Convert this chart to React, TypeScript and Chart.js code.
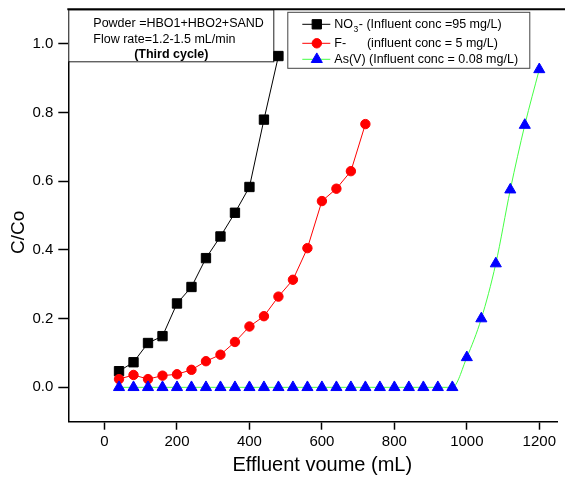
import React, { useEffect, useRef } from "react";
import { Chart, registerables } from "chart.js";

Chart.register(...registerables);

// ---- data ----
const volumeNO3 = [40, 80, 120, 160, 200, 240, 280, 320, 360, 400, 440, 480];
const valuesNO3 = [0.047, 0.073, 0.129, 0.149, 0.244, 0.292, 0.376, 0.439, 0.508, 0.583, 0.779, 0.964];

const volumeF = [40, 80, 120, 160, 200, 240, 280, 320, 360, 400, 440, 480, 520, 560, 600, 640, 680, 720];
const valuesF = [0.024, 0.036, 0.024, 0.034, 0.038, 0.051, 0.076, 0.095, 0.132, 0.177, 0.207, 0.264, 0.313, 0.405, 0.542, 0.578, 0.629, 0.766];

const volumeAs = [40, 80, 120, 160, 200, 240, 280, 320, 360, 400, 440, 480, 520, 560, 600, 640, 680, 720, 760, 800, 840, 880, 920, 960, 1000, 1040, 1080, 1120, 1160, 1200];
const valuesAs = [0, 0, 0, 0, 0, 0, 0, 0, 0, 0, 0, 0, 0, 0, 0, 0, 0, 0, 0, 0, 0, 0, 0, 0, 0.087, 0.2, 0.36, 0.575, 0.763, 0.925];

const xTickValues = [0, 200, 400, 600, 800, 1000, 1200];
const yTickValues = [0, 0.2, 0.4, 0.6, 0.8, 1.0];

const xTitle = "Effluent voume (mL)";
const yTitle = "C/Co";
const annotationLines = ["Powder =HBO1+HBO2+SAND", "Flow rate=1.2-1.5 mL/min", "(Third cycle)"];
const legendMain = ["NO", "F-      (influent conc = 5 mg/L)", "As(V) (Influent conc = 0.08 mg/L)"];
const legendSub = ["3", "", ""];
const legendTail = ["- (Influent conc =95 mg/L)", "", ""];

const FONT = "Arial, 'Liberation Sans', sans-serif";

function drawMarker(ctx: CanvasRenderingContext2D, style: string, x: number, y: number, r: number, color: string) {
  ctx.save();
  ctx.fillStyle = color;
  ctx.strokeStyle = color;
  ctx.lineWidth = 1;
  ctx.beginPath();
  if (style === "rect") {
    const s = r / Math.SQRT2;
    ctx.rect(x - s, y - s, 2 * s, 2 * s);
  } else if (style === "circle") {
    ctx.arc(x, y, r, 0, Math.PI * 2);
  } else {
    const h = r;
    ctx.moveTo(x, y - h);
    ctx.lineTo(x + 0.866 * h, y + h / 2);
    ctx.lineTo(x - 0.866 * h, y + h / 2);
    ctx.closePath();
  }
  ctx.fill();
  ctx.stroke();
  ctx.restore();
}

const decorPlugin = {
  id: "decor",
  beforeDatasetsDraw(chart: any) {
    const { ctx, chartArea } = chart;
    const L = chartArea.left;
    const T = chartArea.top;
    ctx.save();
    // annotation box
    ctx.fillStyle = "#fff";
    ctx.fillRect(L, T, 205, 52);
    ctx.strokeStyle = "#222";
    ctx.lineWidth = 1;
    ctx.strokeRect(L + 0.5, T + 0.5, 205, 52);
    ctx.fillStyle = "#000";
    ctx.textBaseline = "middle";
    ctx.textAlign = "left";
    ctx.font = `12.5px ${FONT}`;
    ctx.fillText(annotationLines[0], L + 25, T + 14);
    ctx.fillText(annotationLines[1], L + 25, T + 30);
    ctx.font = `bold 12.5px ${FONT}`;
    ctx.textAlign = "center";
    ctx.fillText(annotationLines[2], L + 103, T + 45.5);

    // legend box
    const bx = L + 219;
    const by = T + 2.5;
    ctx.fillStyle = "#fff";
    ctx.fillRect(bx, by, 242, 56);
    ctx.strokeStyle = "#444";
    ctx.strokeRect(bx + 0.5, by + 0.5, 242, 56);
    const rowY = [by + 12.5, by + 31.5, by + 47.5];
    chart.data.datasets.forEach((ds: any) => {
      const k = ds.legendIndex;
      const y = rowY[k];
      ctx.strokeStyle = ds.borderColor;
      ctx.lineWidth = 1;
      ctx.beginPath();
      ctx.moveTo(bx + 15, y);
      ctx.lineTo(bx + 43, y);
      ctx.stroke();
      drawMarker(ctx, ds.pointStyle, bx + 29.5, y, ds.pointRadius, ds.pointBackgroundColor);
      ctx.fillStyle = "#000";
      ctx.textAlign = "left";
      ctx.textBaseline = "middle";
      ctx.font = `12.5px ${FONT}`;
      let tx = bx + 47;
      ctx.fillText(legendMain[k], tx, y);
      tx += ctx.measureText(legendMain[k]).width;
      if (legendSub[k]) {
        ctx.font = `8.5px ${FONT}`;
        ctx.fillText(legendSub[k], tx + 0.5, y + 5);
        tx += ctx.measureText(legendSub[k]).width + 1;
        ctx.font = `12.5px ${FONT}`;
      }
      if (legendTail[k]) ctx.fillText(legendTail[k], tx, y);
    });
    ctx.restore();
  },
  afterDraw(chart: any) {
    const { ctx, chartArea } = chart;
    ctx.save();
    // top frame line
    ctx.strokeStyle = "#000";
    ctx.lineWidth = 2;
    ctx.beginPath();
    ctx.moveTo(chartArea.left - 1, chartArea.top);
    ctx.lineTo(chart.width, chartArea.top);
    ctx.stroke();
    // axis titles
    ctx.fillStyle = "#000";
    ctx.textAlign = "center";
    ctx.textBaseline = "middle";
    ctx.font = `20px ${FONT}`;
    ctx.fillText(xTitle, chartArea.left + 254, chartArea.bottom + 44);
    ctx.translate(19, chartArea.top + 223);
    ctx.rotate(-Math.PI / 2);
    ctx.font = `19px ${FONT}`;
    ctx.fillText(yTitle, 0, 0);
    ctx.restore();
  },
};

export default function App() {
  const ref = useRef<HTMLCanvasElement | null>(null);
  useEffect(() => {
    if (!ref.current) return;
    const toPts = (xs: number[], ys: number[]) => xs.map((x, i) => ({ x, y: ys[i] }));
    const chart = new Chart(ref.current, {
      type: "line",
      data: {
        datasets: [
          {
            label: "NO3",
            legendIndex: 0,
            data: toPts(volumeNO3, valuesNO3),
            borderColor: "#000000",
            borderWidth: 1,
            pointStyle: "rect",
            pointRadius: 6.6,
            pointBackgroundColor: "#000000",
            pointBorderColor: "#000000",
            pointBorderWidth: 1,
            order: 2,
          },
          {
            label: "F",
            legendIndex: 1,
            data: toPts(volumeF, valuesF),
            borderColor: "#ff0000",
            borderWidth: 1,
            pointStyle: "circle",
            pointRadius: 4.7,
            pointBackgroundColor: "#ff0000",
            pointBorderColor: "#ff0000",
            pointBorderWidth: 1,
            order: 1,
          },
          {
            label: "As",
            legendIndex: 2,
            data: toPts(volumeAs, valuesAs),
            borderColor: "#44ff44",
            borderWidth: 1,
            cubicInterpolationMode: "monotone",
            pointStyle: "triangle",
            pointRadius: 6.4,
            pointBackgroundColor: "#0000ff",
            pointBorderColor: "#0000ff",
            pointBorderWidth: 1,
            order: 0,
          },
        ] as any,
      },
      options: {
        animation: false,
        responsive: false,
        maintainAspectRatio: false,
        layout: { padding: { top: 9.3, left: 0, right: 0, bottom: 0 } },
        plugins: { legend: { display: false }, tooltip: { enabled: false } },
        scales: {
          x: {
            type: "linear",
            min: -100,
            max: 1250,
            afterBuildTicks: (s: any) => {
              s.ticks = xTickValues.map((v) => ({ value: v }));
            },
            afterFit: (s: any) => {
              s.height = 57.3;
              s.paddingLeft = 0;
              s.paddingRight = 0;
            },
            grid: {
              display: true,
              drawOnChartArea: false,
              drawTicks: true,
              tickLength: 8,
              tickWidth: 1.5,
              tickColor: "#000",
            },
            border: { display: true, color: "#000", width: 1.5 },
            ticks: {
              color: "#000",
              font: { family: FONT, size: 15 },
              padding: 3,
              maxRotation: 0,
              callback: (v: any) => String(v),
            },
            title: { display: false },
          },
          y: {
            type: "linear",
            min: -0.1,
            max: 1.1,
            afterBuildTicks: (s: any) => {
              s.ticks = yTickValues.map((v) => ({ value: v }));
            },
            afterFit: (s: any) => {
              s.width = 68.3;
              s.paddingTop = 0;
              s.paddingBottom = 0;
            },
            grid: {
              display: true,
              drawOnChartArea: false,
              drawTicks: true,
              tickLength: 10,
              tickWidth: 1.5,
              tickColor: "#000",
            },
            border: { display: true, color: "#000", width: 1.5 },
            ticks: {
              color: "#000",
              font: { family: FONT, size: 15 },
              padding: 5,
              callback: (v: any) => Number(v).toFixed(1),
            },
            title: { display: false },
          },
        },
      } as any,
      plugins: [decorPlugin],
    });
    return () => chart.destroy();
  }, []);
  return (
    <div style={{ position: "fixed", left: 0, top: 0, width: 565, height: 479, background: "#fff" }}>
      <canvas ref={ref} width={565} height={479} style={{ display: "block", width: 565, height: 479 }} />
    </div>
  );
}
